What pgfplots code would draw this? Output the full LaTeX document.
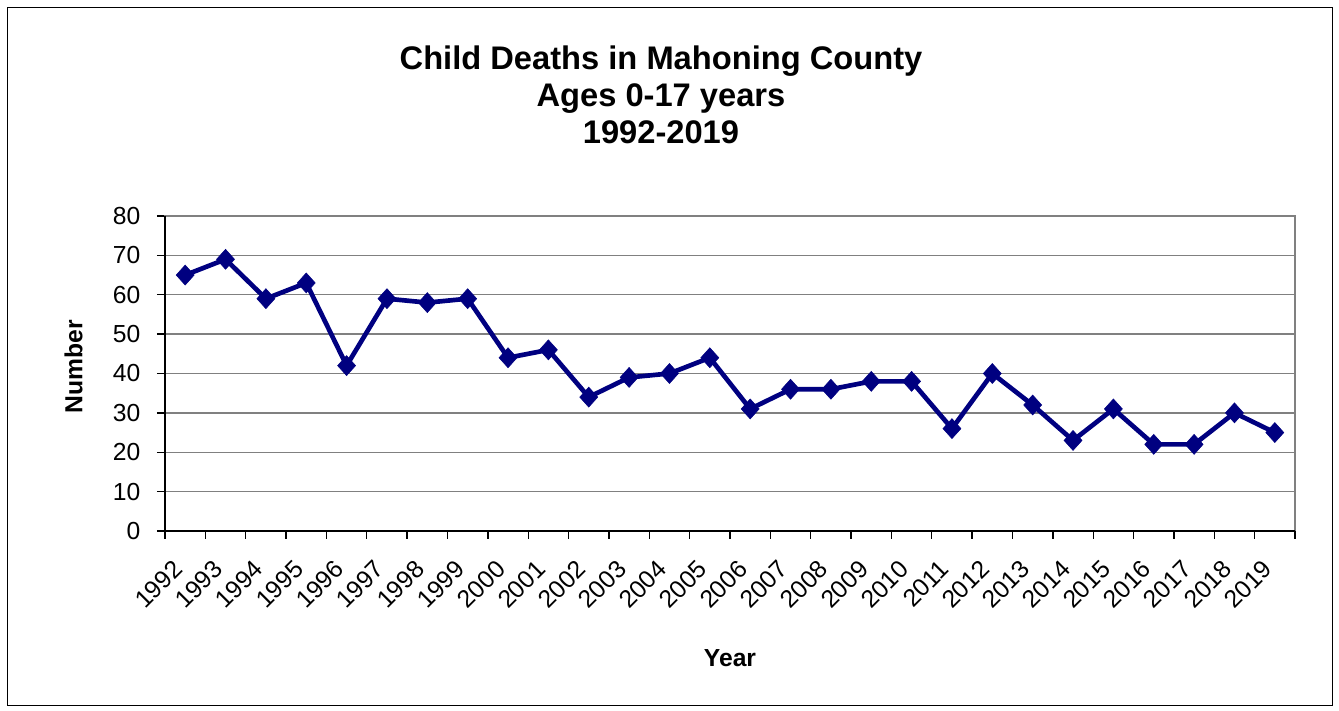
\documentclass[border=0pt]{standalone}
\usepackage{pgfplots}
\pgfplotsset{compat=1.18}
\usepackage{pgfplotstable}
\usepackage{fontspec}
\setmainfont{Liberation Sans}
\definecolor{navy}{RGB}{0,0,128}
\definecolor{gridgray}{RGB}{128,128,128}

\pgfplotstableread{
year n
1992 65
1993 69
1994 59
1995 63
1996 42
1997 59
1998 58
1999 59
2000 44
2001 46
2002 34
2003 39
2004 40
2005 44
2006 31
2007 36
2008 36
2009 38
2010 38
2011 26
2012 40
2013 32
2014 23
2015 31
2016 22
2017 22
2018 30
2019 25
}\deaths

\begin{document}
\begin{tikzpicture}
\begin{axis}[
    scale only axis,
    width=847.5pt, height=236.25pt,
    xmin=-0.5, xmax=27.5,
    ymin=0, ymax=80,
    ytick={0,10,...,80},
    xtick={0,...,27},
    xticklabels from table={\deaths}{year},
    xtick style={draw=none},
    ytick pos=left,
    tick align=outside,
    major tick length=6pt,
    ytick style={black, line width=1pt},
    ymajorgrids,
    grid style={gridgray, line width=1.1pt},
    axis line style={gridgray, line width=1.1pt},
    clip=false,
    /pgf/number format/assume math mode=true,
    tick label style={font=\fontsize{18.5}{20}\selectfont},
    yticklabel style={anchor=east, xshift=-9pt},
    xticklabel style={yshift=-17pt, xshift=-3pt, rotate=45, anchor=east,
      font=\fontsize{18.5}{20}\selectfont},
]
\draw[black, line width=1.5pt] (rel axis cs:0,1) -- (rel axis cs:0,0) -- (rel axis cs:1,0);
\pgfplotsinvokeforeach{0,...,28}{
  \draw[black, line width=1pt] (axis cs:#1-0.5,0) -- ++(0pt,-6pt);
}
\addplot[navy, line width=3.5pt, mark=diamond*, mark size=7.5pt,
  mark options={solid, line width=0.4pt, xscale=1.2}]
  table[x expr=\coordindex, y=n] {\deaths};
\coordinate (sw) at (rel axis cs:0,0);
\coordinate (ne) at (rel axis cs:1,1);
\end{axis}
\path ([shift={(372pt,327pt)}]sw) node[align=center, font=\fontsize{24.5}{27.5}\selectfont\bfseries]
  {Child Deaths in Mahoning County\\Ages 0-17 years\\1992-2019};
\path ([shift={(-68.5pt,123pt)}]sw) node[rotate=90, font=\fontsize{18.5}{20}\selectfont\bfseries] {Number};
\path ([shift={(423.75pt,-95.25pt)}]sw) node[font=\fontsize{18.5}{20}\selectfont\bfseries] {Year};
\draw[black, line width=0.75pt] ([shift={(-117.75pt,-131.25pt)}]sw) rectangle ([shift={(27.75pt,156pt)}]ne);
\path[use as bounding box] ([shift={(-123.75pt,-135pt)}]sw) rectangle ([shift={(33pt,162pt)}]ne);
\end{tikzpicture}
\end{document}
